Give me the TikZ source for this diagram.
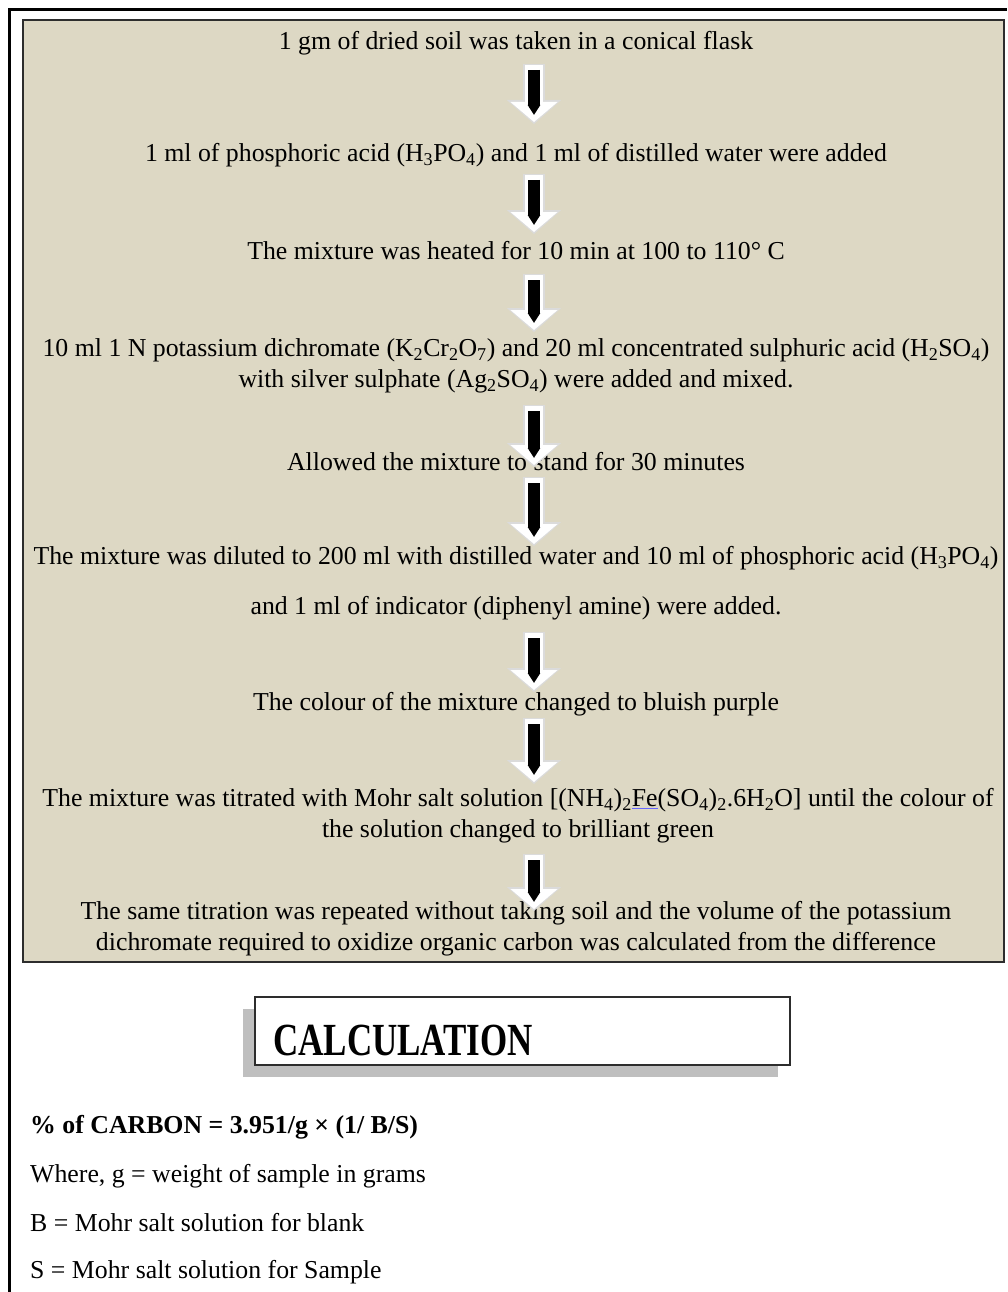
\documentclass[tikz,border=0pt]{standalone}
\usepackage{fontspec}
\setmainfont{Liberation Serif}
\newfontfamily\calcfont[FakeStretch=0.76]{Liberation Serif}
\usetikzlibrary{arrows.meta,shadows}

\definecolor{soilbeige}{RGB}{221,216,196}
\definecolor{panelline}{RGB}{45,45,45}

\begin{document}
\begin{tikzpicture}[x=1pt,y=-1pt,
  stepnote/.style={font=\rmfamily\fontsize{25.8}{31}\selectfont, align=center, inner sep=0pt},
  formula/.style={font=\rmfamily\fontsize{25.8}{31}\selectfont, anchor=west, inner sep=0pt},
  calcbox/.style={draw=panelline, line width=1.5pt, fill=white, minimum width=535pt, minimum height=68pt,
    drop shadow={shadow xshift=-12pt, shadow yshift=-12pt, fill=gray!50, opacity=1}},
  arrowglow/.style={line width=22pt, gray!28, -{Triangle[length=24pt,width=53pt]}},
  arrowbody/.style={line width=18pt, white, -{Triangle[length=20pt,width=46pt]}},
  arrowcore/.style={line width=12pt, black, -{Triangle[length=10pt,width=12pt]}}]
  \useasboundingbox (0,0) rectangle (1007,1292);

  % Frame and panel
  \draw[line width=3.5pt] (9.5,1292) |- (1007,9.5);
  \draw[panelline, line width=2pt, fill=soilbeige] (23,20) rectangle (1004,962);

  % Procedure steps
  \node[stepnote] (s1) at (516,43) {1 gm of dried soil was taken in a conical flask};
  \node[stepnote] (s2) at (516,155) {1 ml of phosphoric acid (H\textsubscript{3}PO\textsubscript{4}) and 1 ml of distilled water were added};
  \node[stepnote] (s3) at (516,251) {The mixture was heated for 10 min at 100 to 110° C};
  \node[stepnote] (s4) at (516,366) {10 ml 1 N potassium dichromate (K\textsubscript{2}Cr\textsubscript{2}O\textsubscript{7}) and 20 ml concentrated sulphuric acid (H\textsubscript{2}SO\textsubscript{4})\\
    with silver sulphate (Ag\textsubscript{2}SO\textsubscript{4}) were added and mixed.};
  \node[stepnote] (s5) at (516,462) {Allowed the mixture to stand for 30 minutes};
  \node[stepnote] (s6) at (516,583) {The mixture was diluted to 200 ml with distilled water and 10 ml of phosphoric acid (H\textsubscript{3}PO\textsubscript{4})\\[19pt]
    and 1 ml of indicator (diphenyl amine) were added.};
  \node[stepnote] (s7) at (516,704) {The colour of the mixture changed to bluish purple};
  \node[stepnote] (s8) at (518,816) {The mixture was titrated with Mohr salt solution [(NH\textsubscript{4})\textsubscript{2}{\color{blue!60}\underline{\color{black}Fe}}(SO\textsubscript{4})\textsubscript{2}.6H\textsubscript{2}O] until the colour of\\
    the solution changed to brilliant green};
  \node[stepnote] (s9) at (516,929) {The same titration was repeated without taking soil and the volume of the potassium\\
    dichromate required to oxidize organic carbon was calculated from the difference};

  % Flow arrows
  \foreach \i/\t/\b in {1/65/122, 2/175/232, 3/275/330, 4/406/465, 5/478/544, 6/633/690, 7/719/782, 8/855/909}{
    \coordinate (top\i) at (534,\t);
    \coordinate (tip\i) at (534,\b);
    \draw[arrowglow] ([yshift=1pt]top\i) -- ([yshift=-2pt]tip\i);
    \draw[arrowbody] (top\i) -- (tip\i);
    \draw[arrowcore] ([yshift=-5pt]top\i) -- ([yshift=7pt]tip\i);
  }

  % Calculation
  \node[calcbox] (calc) at (522.5,1031) {};
  \node[anchor=west, inner sep=0pt, font=\calcfont\bfseries\fontsize{46}{46}\selectfont] (calctitle) at (273,1040) {CALCULATION};

  \node[formula, font=\rmfamily\fontsize{25.8}{31}\selectfont\bfseries] (f1) at (30,1127) {\% of CARBON = 3.951/g × (1/ B/S)};
  \node[formula] (f2) at (30,1176) {Where, g = weight of sample in grams};
  \node[formula] (f3) at (30,1223) {B = Mohr salt solution for blank};
  \node[formula] (f4) at (30,1272) {S = Mohr salt solution for Sample};
\end{tikzpicture}
\end{document}
